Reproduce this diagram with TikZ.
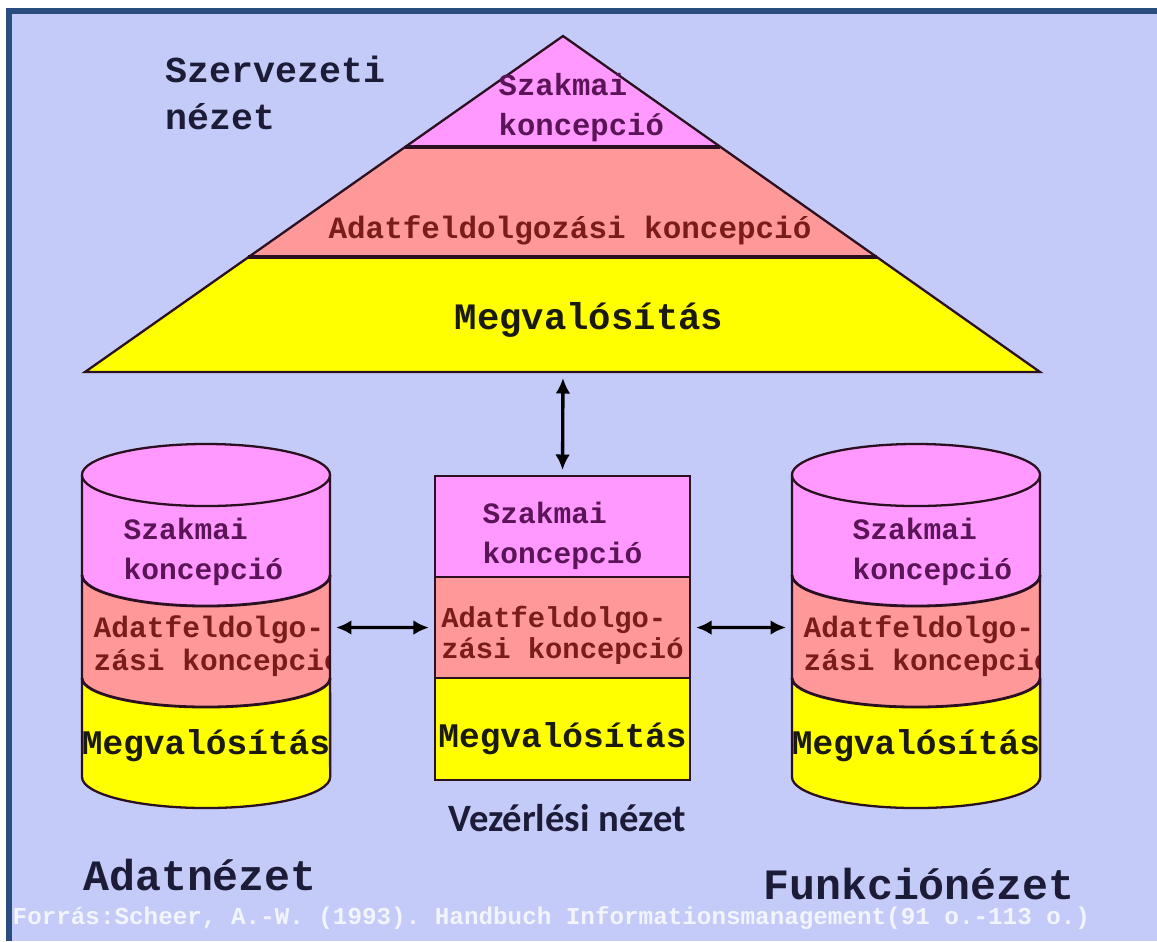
\documentclass[tikz,border=0pt]{standalone}
\usepackage{fontspec}
\setmainfont{Liberation Serif}
\setmonofont{Liberation Mono}
\newfontfamily\calibrifont{Carlito}
\usetikzlibrary{arrows.meta,positioning,calc}
\definecolor{bgblue}{HTML}{C4CBF8}
\definecolor{frameblue}{HTML}{2B4C7E}
\definecolor{pinklayer}{HTML}{FF99FF}
\definecolor{salmonlayer}{HTML}{FF9999}
\definecolor{yellowlayer}{HTML}{FFFF00}
\definecolor{purpletext}{HTML}{5C1458}
\definecolor{redtext}{HTML}{7A1C1C}
\definecolor{inktext}{HTML}{1A1A10}
\definecolor{headtext}{HTML}{1C1C38}
\definecolor{edgeline}{HTML}{2A1020}

\begin{document}
\begin{tikzpicture}[
  x=0.01cm,y=-0.01cm,
  >=Latex,
  flow/.style={{Latex[length=4.4pt,width=4.2pt]}-{Latex[length=4.4pt,width=4.2pt]},line width=0.95pt,draw=black,
    shorten <=0.06cm,shorten >=0.06cm},
  outline/.style={draw=edgeline,line width=0.65pt},
  divider/.style={draw=edgeline,line width=1pt},
  layer/.style={draw=edgeline,line width=0.65pt,minimum width=2.55cm,inner sep=0pt,outer sep=0pt},
  szaktext/.style={font=\ttfamily\bfseries\fontsize{8.4}{11.4}\selectfont,text=purpletext,align=left,inner sep=0pt},
  adattext/.style={font=\ttfamily\bfseries\fontsize{8.2}{8.9}\selectfont,text=redtext,align=left,inner sep=0pt},
  megvtext/.style={font=\ttfamily\bfseries\fontsize{9.8}{11}\selectfont,text=inktext,inner sep=0pt},
  heading/.style={font=\ttfamily\bfseries\fontsize{12.3}{14}\selectfont,text=headtext,inner sep=0pt}
]
\useasboundingbox (0,0) rectangle (1157,941);
% frame and background
\fill[bgblue] (7,9) rectangle (1157,941);
\draw[frameblue,line width=1.5pt] (9,941) -- (9,11) -- (1157,11);

% pyramid (szervezeti nezet)
\coordinate (apex) at (563,36);
\coordinate (pbl) at (85,372);
\coordinate (pbr) at (1040,372);
\coordinate (pyrbase) at (563,372);
\coordinate (l1w) at ($(apex)!0.330!(pbl)$);
\coordinate (l1e) at ($(apex)!0.330!(pbr)$);
\coordinate (l2w) at ($(apex)!0.658!(pbl)$);
\coordinate (l2e) at ($(apex)!0.658!(pbr)$);
\fill[yellowlayer] (apex) -- (pbl) -- (pbr) -- cycle;
\fill[salmonlayer] (apex) -- (l2w) -- (l2e) -- cycle;
\fill[pinklayer] (apex) -- (l1w) -- (l1e) -- cycle;
\draw[divider] (l1w) -- (l1e) (l2w) -- (l2e);
\draw[outline] (apex) -- (pbl) -- (pbr) -- cycle;
\node[szaktext,font=\ttfamily\bfseries\fontsize{8.7}{11.4}\selectfont,anchor=west] (pszak) at (498,108) {Szakmai\\koncepció};
\node[adattext,font=\ttfamily\bfseries\fontsize{8.8}{10}\selectfont] (padat) at (570,230) {Adatfeldolgozási koncepció};
\node[megvtext,font=\ttfamily\bfseries\fontsize{10.6}{12}\selectfont] (pmegv) at (589,320) {Megvalósítás};
\node[heading,font=\ttfamily\bfseries\fontsize{10.4}{13.4}\selectfont,align=left,anchor=west] (szerv) at (165,93) {Szervezeti\\nézet};

% vezerlesi nezet
\node[layer,fill=pinklayer,minimum height=1.01cm] (vtop) at (562.5,526.5) {};
\node[layer,fill=salmonlayer,minimum height=1.01cm,below=0pt of vtop] (vmid) {};
\node[layer,fill=yellowlayer,minimum height=1.02cm,below=0pt of vmid] (vbot) {};
\node[szaktext] (vszak) at ([yshift=-0.09cm]vtop.center) {Szakmai\\koncepció};
\node[adattext] (vadat) at ([yshift=-0.08cm]vmid.center) {Adatfeldolgo-\\zási koncepció};
\node[megvtext] (vmegv) at ([yshift=-0.1cm]vbot.center) {Megvalósítás};
\node[font=\calibrifont\bfseries\fontsize{11}{13}\selectfont,text=headtext,inner sep=0pt] (vname) at (567,818) {Vezérlési nézet};

% adat- es funkcionezet
\foreach \cx/\sx/\nm in {206/123/dcyl,916/852/fcyl}{
  \begin{scope}
    \clip (\cx-124,475) -- (\cx-124,777) arc[start angle=180,end angle=360,x radius=1.24cm,y radius=0.31cm]
      -- (\cx+124,475) arc[start angle=0,end angle=180,x radius=1.24cm,y radius=0.31cm] -- cycle;
    \fill[yellowlayer] (\cx-124,440) rectangle (\cx+124,820);
    \fill[salmonlayer] (\cx-124,440) -- (\cx-124,678) arc[start angle=180,end angle=360,x radius=1.24cm,y radius=0.29cm]
      -- (\cx+124,440) -- cycle;
    \fill[pinklayer] (\cx-124,440) -- (\cx-124,575) arc[start angle=180,end angle=360,x radius=1.24cm,y radius=0.31cm]
      -- (\cx+124,440) -- cycle;
    \node[szaktext,anchor=west] (\nm-szak) at (\sx,552) {Szakmai\\koncepció};
    \node[adattext,font=\ttfamily\bfseries\fontsize{8.4}{9.2}\selectfont,anchor=west] (\nm-adat) at (\cx-113,646) {Adatfeldolgo-\\zási koncepció};
    \node[megvtext] (\nm-megv) at (\cx,746) {Megvalósítás};
  \end{scope}
  \draw[divider,line width=0.8pt] (\cx-124,575) arc[start angle=180,end angle=360,x radius=1.24cm,y radius=0.31cm];
  \draw[divider,line width=0.8pt] (\cx-124,678) arc[start angle=180,end angle=360,x radius=1.24cm,y radius=0.29cm];
  \draw[outline] (\cx,475) ellipse[x radius=1.24cm,y radius=0.31cm];
  \draw[outline] (\cx-124,475) -- (\cx-124,777) arc[start angle=180,end angle=360,x radius=1.24cm,y radius=0.31cm]
    -- (\cx+124,475);
  \coordinate (\nm-w) at (\cx-124,627.5);
  \coordinate (\nm-e) at (\cx+124,627.5);
}
\node[heading] (dname) at (200,875) {Adatnézet};
\node[heading] (fname) at (919,884) {Funkciónézet};

% connectors
\draw[flow] (pyrbase) -- (vtop.north);
\draw[flow] (dcyl-e) -- (vmid.west);
\draw[flow] (vmid.east) -- (fcyl-w);

\node[font=\ttfamily\bfseries\fontsize{6.9}{8}\selectfont,text=white!80!bgblue,anchor=west,inner sep=0pt] (source) at (12,918)
  {Forrás:Scheer, A.-W. (1993). Handbuch Informationsmanagement(91 o.-113 o.)};
\end{tikzpicture}
\end{document}
